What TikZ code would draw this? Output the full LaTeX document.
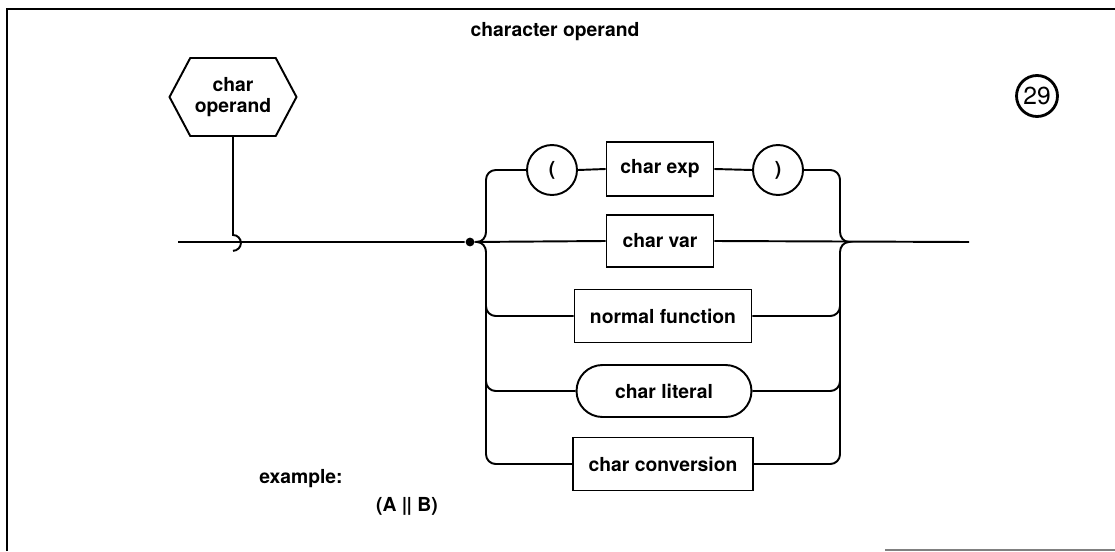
\documentclass[tikz,border=0pt]{standalone}
\usepackage{fontspec}
\setmainfont{TeX Gyre Heros}
\usetikzlibrary{shapes.symbols}
\begin{document}
\begin{tikzpicture}[x=0.02cm,y=-0.02cm,line width=1.1pt,
  lbl/.style={font=\bfseries\fontsize{11}{13}\selectfont},
  boxnode/.style={draw,lbl,inner sep=0pt,minimum height=1.06cm},
  circnode/.style={draw,circle,lbl,minimum size=1cm,inner sep=0pt},
  rnd/.style={rounded corners=5.5pt}]
\useasboundingbox (0,0) rectangle (1115,551);
% frame
\draw[line width=1.3pt] (7,551) -- (7,9) -- (1115,9);
\draw[gray,line width=0.8pt] (885,550) -- (1115,550);
% title and number
\node[lbl] (title) at (555,32) {character operand};
\node[draw,circle,line width=1.6pt,minimum size=0.82cm,inner sep=0pt,font=\fontsize{14}{16}\selectfont] (num) at (1037,96) {29};
% start symbol
\node[draw,signal,signal to=west and east,signal pointer angle=124,minimum width=2.54cm,minimum height=1.56cm,inner sep=0pt,lbl,align=center] (hex) at (233,97) {char\\[-1pt]operand};
\coordinate (hk) at (233,235);
\draw (hex.south) -- (hk) arc[start angle=90,end angle=-90,radius=4.5pt];
% main line
\coordinate (start) at (178,242);
\coordinate (end) at (969,242);
\node[circle,fill,inner sep=0pt,minimum size=5pt] (dot) at (470,242) {};
% elements
\node[circnode] (lp) at (552,170) {(};
\node[boxnode,minimum width=2.14cm,minimum height=1.08cm] (ce) at (660,169) {char exp};
\node[circnode] (rp) at (778,170) {)};
\node[boxnode,minimum width=2.14cm,minimum height=1.04cm] (cv) at (660,241) {char var};
\node[boxnode,minimum width=3.54cm] (nf) at (663,316) {normal function};
\node[boxnode,minimum width=3.5cm,minimum height=1.04cm,rounded corners=0.52cm] (cl) at (664,391) {char literal};
\node[boxnode,minimum width=3.6cm] (cc) at (663,464) {char conversion};
% connectors
\draw (start) -- (dot) -- (cv.west);
\draw (cv.east) -- (end);
\draw (lp.east) -- (ce.west);
\draw (ce.east) -- (rp.west);
% left bracket
\draw[rnd] (lp.west) -- (486,170) -- (486,232);
\draw (486,232) to[out=-90,in=0] (477,242) to[out=0,in=90] (486,252);
\draw[rnd] (486,252) -- (486,464) -- (cc.west);
\draw[rnd] (486,296) -- (486,316) -- (nf.west);
\draw[rnd] (486,371) -- (486,391) -- (cl.west);
% right bracket
\draw[rnd] (rp.east) -- (840,170) -- (840,232);
\draw (840,232) to[out=-90,in=180] (849,242) to[out=180,in=90] (840,252);
\draw[rnd] (840,252) -- (840,464) -- (cc.east);
\draw[rnd] (nf.east) -- (840,316) -- (840,296);
\draw[rnd] (cl.east) -- (840,391) -- (840,371);
% example
\node[lbl] (ex) at (301,479) {example:};
\node[lbl] (exa) at (407,506) {(A \textbar\kern-0.4pt\textbar{} B)};
\end{tikzpicture}
\end{document}
